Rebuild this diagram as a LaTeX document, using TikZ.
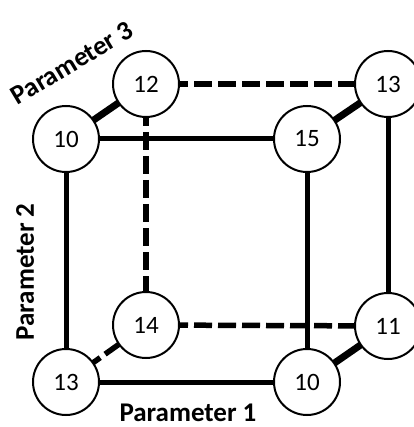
\documentclass[tikz,border=0pt]{standalone}
\usepackage{fontspec}
\setmainfont{Carlito}
\begin{document}
\begin{tikzpicture}[x=1pt,y=-1pt,
  vertex/.style={circle,draw=black,line width=2pt,fill=white,minimum size=66pt,inner sep=0pt,font=\fontsize{25}{25}\selectfont},
  edge/.style={line width=5pt},
  depth/.style={line width=7pt},
  hidden/.style={line width=5.5pt,dash pattern=on 18pt off 6pt},
  axislabel/.style={font=\fontsize{27}{27}\selectfont\bfseries,inner sep=0pt}]
\useasboundingbox (0,0) rectangle (413,427);
% front face
\coordinate (pf1) at (66,139);
\coordinate (pf2) at (307,139);
\coordinate (pf3) at (66,382);
\coordinate (pf4) at (307,382);
% back face
\coordinate (pb1) at (146,84);
\coordinate (pb2) at (388,84);
\coordinate (pb3) at (146,325);
\coordinate (pb4) at (388,326);
% hidden edges
\draw[hidden] (pb1) -- (pb2);
\draw[hidden] (pb1) -- (pb3);
\draw[hidden] (pb3) -- (pb4);
\draw[hidden] (pf3) -- (pb3);
% visible edges
\draw[edge] (pf1) -- (pf2);
\draw[edge] (pf1) -- (pf3);
\draw[edge] (pf3) -- (pf4);
\draw[edge] (pf2) -- (pf4);
\draw[edge] (pb2) -- (pb4);
\draw[depth] (pf1) -- (pb1);
\draw[depth] (pf2) -- (pb2);
\draw[depth] (pf4) -- (pb4);
% vertices
\node[vertex] (f1) at (pf1) {10};
\node[vertex] (f2) at (pf2) {15};
\node[vertex] (f3) at (pf3) {13};
\node[vertex] (f4) at (pf4) {10};
\node[vertex] (b1) at (pb1) {12};
\node[vertex] (b2) at (pb2) {13};
\node[vertex] (b3) at (pb3) {14};
\node[vertex] (b4) at (pb4) {11};
% axis labels
\node[axislabel] (p1) at (188,413) {Parameter 1};
\node[axislabel,rotate=90] (p2) at (25,272) {Parameter 2};
\node[axislabel,rotate=31] (p3) at (72,63) {Parameter 3};
\end{tikzpicture}
\end{document}
